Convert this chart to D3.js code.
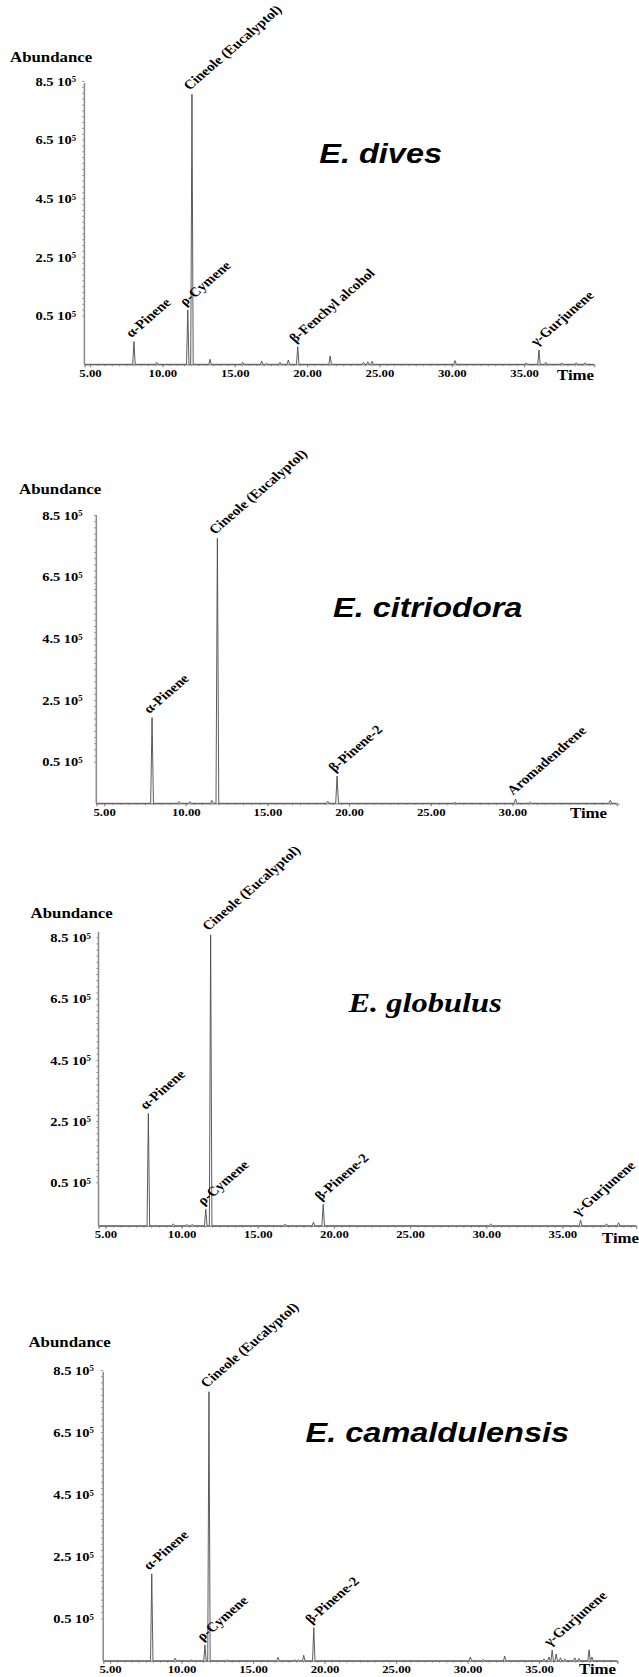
<!DOCTYPE html>
<html>
<head>
<meta charset="utf-8">
<script src="https://cdn.jsdelivr.net/npm/d3@7"></script>
<style>
  body { margin: 0; background: #fff; }
  svg { display: block; }
</style>
</head>
<body>
<svg id="chart" width="639" height="1677"></svg>
<script>
// ---- Data -------------------------------------------------------------
const species = ["E. dives", "E. citriodora", "E. globulus", "E. camaldulensis"];
const yTickValues = [0.5e5, 2.5e5, 4.5e5, 6.5e5, 8.5e5];
const yTickMantissa = ["0.5", "2.5", "4.5", "6.5", "8.5"];
const xTickValues = [5, 10, 15, 20, 25, 30, 35];
const xTickValuesShort = [5, 10, 15, 20, 25, 30];

// retention time (min) and abundance of each peak
const divesTimes = [8.04, 9.61, 11.76, 12.05, 13.3, 15.55, 16.87, 17.2, 18.13, 18.71, 19.36, 21.6, 23.9, 24.2, 24.5, 30.23, 35.15, 36.03, 36.5, 37.6, 38.6, 39.2];
const divesAbund = [23300, 2000, 69000, 805000, 5100, 2000, 3400, 1000, 2000, 4400, 18000, 8500, 2000, 2500, 3000, 3800, 1500, 14700, 2000, 1500, 1500, 1500];
const divesLabels = ["α-Pinene", "ρ-Cymene", "Cineole (Eucalyptol)", "β-Fenchyl alcohol", "γ-Gurjunene"];
const divesLabelTimes = [8.04, 11.76, 12.05, 19.36, 36.03];

const citriodoraTimes = [7.94, 9.6, 10.26, 11.6, 11.94, 18.7, 19.27, 26.5, 30.2, 31.1, 36.0];
const citriodoraAbund = [193000, 2000, 2000, 3500, 774000, 2500, 32800, 1000, 5200, 1500, 3500];
const citriodoraLabels = ["α-Pinene", "Cineole (Eucalyptol)", "β-Pinene-2", "Aromadendrene"];
const citriodoraLabelTimes = [7.94, 11.94, 19.27, 30.2];

const globulusTimes = [7.82, 9.46, 10.34, 10.7, 11.59, 11.91, 16.8, 18.66, 19.3, 30.3, 36.2, 37.9, 38.7];
const globulusAbund = [275000, 2300, 1700, 1700, 19000, 858000, 2000, 4200, 24600, 2300, 6600, 2300, 3500];
const globulusLabels = ["α-Pinene", "ρ-Cymene", "Cineole (Eucalyptol)", "β-Pinene-2", "γ-Gurjunene"];
const globulusLabelTimes = [7.82, 11.59, 11.91, 19.3, 36.2];

const camaldulensisTimes = [7.92, 9.56, 10.66, 11.64, 11.92, 13.16, 16.75, 17.94, 18.17, 18.55, 19.25, 30.2, 31.1, 32.6, 35.35, 35.7, 35.92, 36.2, 36.5, 36.8, 37.5, 37.8, 38.5, 38.7];
const camaldulensisAbund = [193000, 3000, 1200, 18700, 780000, 1200, 4000, 1200, 1200, 6500, 39000, 4500, 1800, 5500, 2300, 4500, 12500, 8000, 3500, 2300, 3500, 2800, 13000, 4500];
const camaldulensisLabels = ["α-Pinene", "ρ-Cymene", "Cineole (Eucalyptol)", "β-Pinene-2", "γ-Gurjunene"];
const camaldulensisLabelTimes = [7.92, 11.64, 11.92, 19.25, 35.92];

const peakTimes = [divesTimes, citriodoraTimes, globulusTimes, camaldulensisTimes];
const peakAbund = [divesAbund, citriodoraAbund, globulusAbund, camaldulensisAbund];
const peakLabels = [divesLabels, citriodoraLabels, globulusLabels, camaldulensisLabels];
const peakLabelTimes = [divesLabelTimes, citriodoraLabelTimes, globulusLabelTimes, camaldulensisLabelTimes];
const panelXTicks = [xTickValues, xTickValuesShort, xTickValues, xTickValues];

// ---- Layout (page pixels) ----------------------------------------------
const SX = 1.16;                // whole figure is drawn horizontally stretched
const ux = v => v / SX;

const layout = [
  { axisX: 84.4, axisRight: 594, top: 83, base: 364.3, y05: 315.5, y85: 81,
    tRef: 10, xRef: 162.3, slope: 14.47, labelGap: 8.4,
    abundX: 10, abundY: 62, timeX: 557, timeY: 380,
    titleX: 319.3, titleY: 162.7, titleFamily: "'Liberation Sans', Arial, sans-serif" },
  { axisX: 96.3, axisRight: 616.7, top: 515, base: 803.3, y05: 761.7, y85: 515,
    tRef: 10, xRef: 185.7, slope: 16.33, labelGap: 13.6,
    abundX: 19, abundY: 494, timeX: 570, timeY: 818,
    titleX: 333, titleY: 616.7, titleFamily: "'Liberation Sans', Arial, sans-serif" },
  { axisX: 98.5, axisRight: 636, top: 931.7, base: 1225.8, y05: 1182.3, y85: 937.3,
    tRef: 15, xRef: 257.7, slope: 15.23, labelGap: 7.6,
    abundX: 30.6, abundY: 918, timeX: 602, timeY: 1243,
    titleX: 348.4, titleY: 1011.7, titleFamily: "'Liberation Serif', 'Times New Roman', serif" },
  { axisX: 103.2, axisRight: 617, top: 1371.7, base: 1660.8, y05: 1618.3, y85: 1370,
    tRef: 5, xRef: 110, slope: 14.3, labelGap: 9.3,
    abundX: 28.5, abundY: 1347, timeX: 579, timeY: 1674.5,
    titleX: 305.6, titleY: 1441.7, titleFamily: "'Liberation Sans', Arial, sans-serif" }
];

const serif = "'Liberation Serif', 'Times New Roman', serif";
const traceColor = "#4d4d4d";
const axisColor = "#8a8a8a";
const halfWidth = 0.085;        // peak half-width at the baseline (min)

const svg = d3.select("#chart");
const root = svg.append("g").attr("transform", `scale(${SX},1)`);

species.forEach((name, i) => {
  const L = layout[i];
  const g = root.append("g").attr("class", "panel");

  // x scale: time (min) -> px, spanning the drawn axis
  const t0 = L.tRef + (L.axisX - L.xRef) / L.slope;
  const t1 = L.tRef + (L.axisRight - L.xRef) / L.slope;
  const x = d3.scaleLinear().domain([t0, t1]).range([ux(L.axisX), ux(L.axisRight)]);

  // y scale: abundance -> px (the lowest interval is expanded as on the instrument print)
  const y = d3.scaleLinear().domain([0, 0.5e5, 8.5e5]).range([L.base, L.y05, L.y85]);

  // ---- x axis: minor ticks, major ticks, labels
  const xMinor = d3.axisBottom(x).tickValues(d3.range(5, Math.floor(t1) + 1, 0.5))
    .tickSize(2).tickFormat("");
  const gxm = g.append("g").attr("transform", `translate(0,${L.base})`).call(xMinor);
  gxm.select(".domain").remove();
  gxm.selectAll("line").attr("stroke", axisColor).attr("stroke-width", 0.8);

  const xAxis = d3.axisBottom(x).tickValues(panelXTicks[i]).tickSize(3).tickFormat(d3.format(".2f"));
  const gx = g.append("g").attr("transform", `translate(0,${L.base})`).call(xAxis);
  gx.select(".domain").attr("stroke", axisColor).attr("stroke-width", 1.2);
  gx.selectAll("line").attr("stroke", axisColor);
  gx.selectAll("text")
    .attr("y", 4.7).attr("dy", "0.71em")
    .attr("fill", "#000")
    .style("font-family", serif).style("font-weight", "bold").style("font-size", "11px");

  // ---- y axis
  const yMinor = d3.axisLeft(y).tickValues(d3.range(0.5e5, 8.5e5 + 1, 0.2e5)).tickSize(2).tickFormat("");
  const gym = g.append("g").attr("transform", `translate(${ux(L.axisX)},0)`).call(yMinor);
  gym.select(".domain").remove();
  gym.selectAll("line").attr("stroke", axisColor).attr("stroke-width", 0.8);

  g.append("line")
    .attr("x1", ux(L.axisX)).attr("x2", ux(L.axisX))
    .attr("y1", y(0)).attr("y2", y(y.invert(L.top)))
    .attr("stroke", axisColor).attr("stroke-width", 1.3);

  const yAxis = d3.axisLeft(y).tickValues(yTickValues).tickSize(0).tickPadding(ux(L.labelGap));
  const gy = g.append("g").attr("transform", `translate(${ux(L.axisX)},0)`).call(yAxis);
  gy.select(".domain").remove();
  gy.selectAll("text")
    .attr("fill", "#000")
    .attr("dy", "0.34em")
    .style("font-family", serif).style("font-weight", "bold").style("font-size", "12.5px")
    .text(null)
    .each(function (d, k) {
      const t = d3.select(this);
      t.append("tspan").text(yTickMantissa[k] + " 10");
      t.append("tspan").attr("dy", "-0.45em").style("font-size", "7.5px").text("5");
    });

  // ---- axis titles
  g.append("text")
    .attr("x", ux(L.abundX)).attr("y", L.abundY)
    .style("font-family", serif).style("font-weight", "bold").style("font-size", "14.5px")
    .text("Abundance");
  g.append("text")
    .attr("x", ux(L.timeX)).attr("y", L.timeY)
    .style("font-family", serif).style("font-weight", "bold").style("font-size", "14.5px")
    .text("Time");

  // ---- chromatogram trace
  const times = peakTimes[i], abund = peakAbund[i];
  const pts = [[t0, 0]];
  times.forEach((t, k) => { pts.push([t - halfWidth, 0], [t, abund[k]], [t + halfWidth, 0]); });
  pts.push([t1, 0]);
  const line = d3.line().x(d => x(d[0])).y(d => y(d[1]));
  g.append("path")
    .attr("d", line(pts))
    .attr("fill", "none")
    .attr("stroke", traceColor)
    .attr("stroke-width", 0.85)
    .attr("stroke-linejoin", "miter");

  // ---- peak annotations
  peakLabels[i].forEach((lab, k) => {
    const t = peakLabelTimes[i][k];
    const a = abund[times.indexOf(t)];
    const ax = x(t) - ux(2.5);
    const ay = y(a) - 3.5;
    g.append("text")
      .attr("transform", `translate(${ax},${ay}) rotate(-45)`)
      .style("font-family", serif).style("font-weight", "bold").style("font-size", "13px")
      .text(lab);
  });

  // ---- species title
  g.append("text")
    .attr("x", ux(L.titleX)).attr("y", L.titleY)
    .style("font-family", L.titleFamily).style("font-weight", "bold")
    .style("font-style", "italic").style("font-size", "28px")
    .text(name);
});
</script>
</body>
</html>
